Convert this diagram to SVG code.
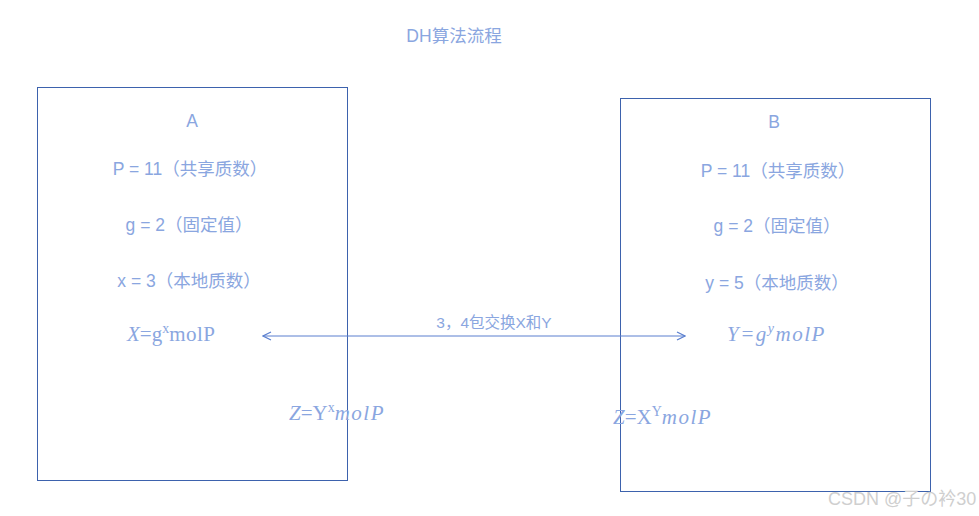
<svg xmlns="http://www.w3.org/2000/svg" width="979" height="516" viewBox="0 0 979 516">
<defs>
<style>
.box{fill:#fff;stroke:#3d62ad;stroke-width:1}
.t{font-family:"Liberation Sans","Noto Sans CJK SC",sans-serif;font-size:17.5px;fill:#8aa6e0;text-anchor:middle}
.l{font-family:"Liberation Sans","Noto Sans CJK SC",sans-serif;font-size:15.5px;fill:#8aa6e0;text-anchor:middle}
.m{font-family:"Liberation Serif","DejaVu Serif",serif;font-size:21px;fill:#8aa6e0}
.i{font-style:italic}
.sp{letter-spacing:1.5px}
.wm{font-family:"Liberation Sans","Noto Sans CJK SC",sans-serif;font-size:18px;fill:#cfcfcf}
</style>
<marker id="ah" viewBox="0 0 10 10" refX="9" refY="5" markerWidth="10" markerHeight="10" orient="auto-start-reverse" markerUnits="userSpaceOnUse">
<path d="M1,1 L9,5 L1,9" fill="none" stroke="#5a7fcf" stroke-width="1.2"/>
</marker>
</defs>
<rect width="979" height="516" fill="#fff"/>
<text class="t" x="454" y="42">DH算法流程</text>
<g id="nodeA">
<rect class="box" x="37.5" y="87.5" width="310" height="393"/>
<text class="t" x="192" y="127">A</text>
<text class="t" x="190" y="175">P = 11（共享质数）</text>
<text class="t" x="189" y="231">g = 2（固定值）</text>
<text class="t" x="189" y="287">x = 3（本地质数）</text>
<text class="m" x="127" y="341"><tspan class="i">X</tspan>=g<tspan dy="-8" font-size="14">x</tspan><tspan dy="8" letter-spacing="0.5">molP</tspan></text>
</g>
<g id="nodeB">
<rect class="box" x="620.5" y="98.5" width="310" height="393"/>
<text class="t" x="774" y="128">B</text>
<text class="t" x="778" y="177">P = 11（共享质数）</text>
<text class="t" x="777" y="232">g = 2（固定值）</text>
<text class="t" x="777" y="289">y = 5（本地质数）</text>
<text class="m i sp" x="727" y="341">Y=g<tspan dy="-8" font-size="14">y</tspan><tspan dy="8">molP</tspan></text>
</g>
<g id="zA">
<text class="m" x="289" y="420"><tspan class="i">Z</tspan>=Y<tspan dy="-8" font-size="14">x</tspan><tspan dy="8" class="i sp">molP</tspan></text>
</g>
<g id="zB">
<text class="m" x="613" y="424"><tspan class="i">Z</tspan>=X<tspan dy="-8" font-size="14">Y</tspan><tspan dy="8" class="i sp">molP</tspan></text>
</g>
<g id="connectors">
<line x1="263" y1="336" x2="685" y2="336" stroke="#5a7fcf" stroke-width="1" marker-start="url(#ah)" marker-end="url(#ah)"/>
<text class="l" x="494" y="328">3，4包交换X和Y</text>
</g>
<text class="wm" x="828" y="505">CSDN @子の衿30</text>
</svg>
